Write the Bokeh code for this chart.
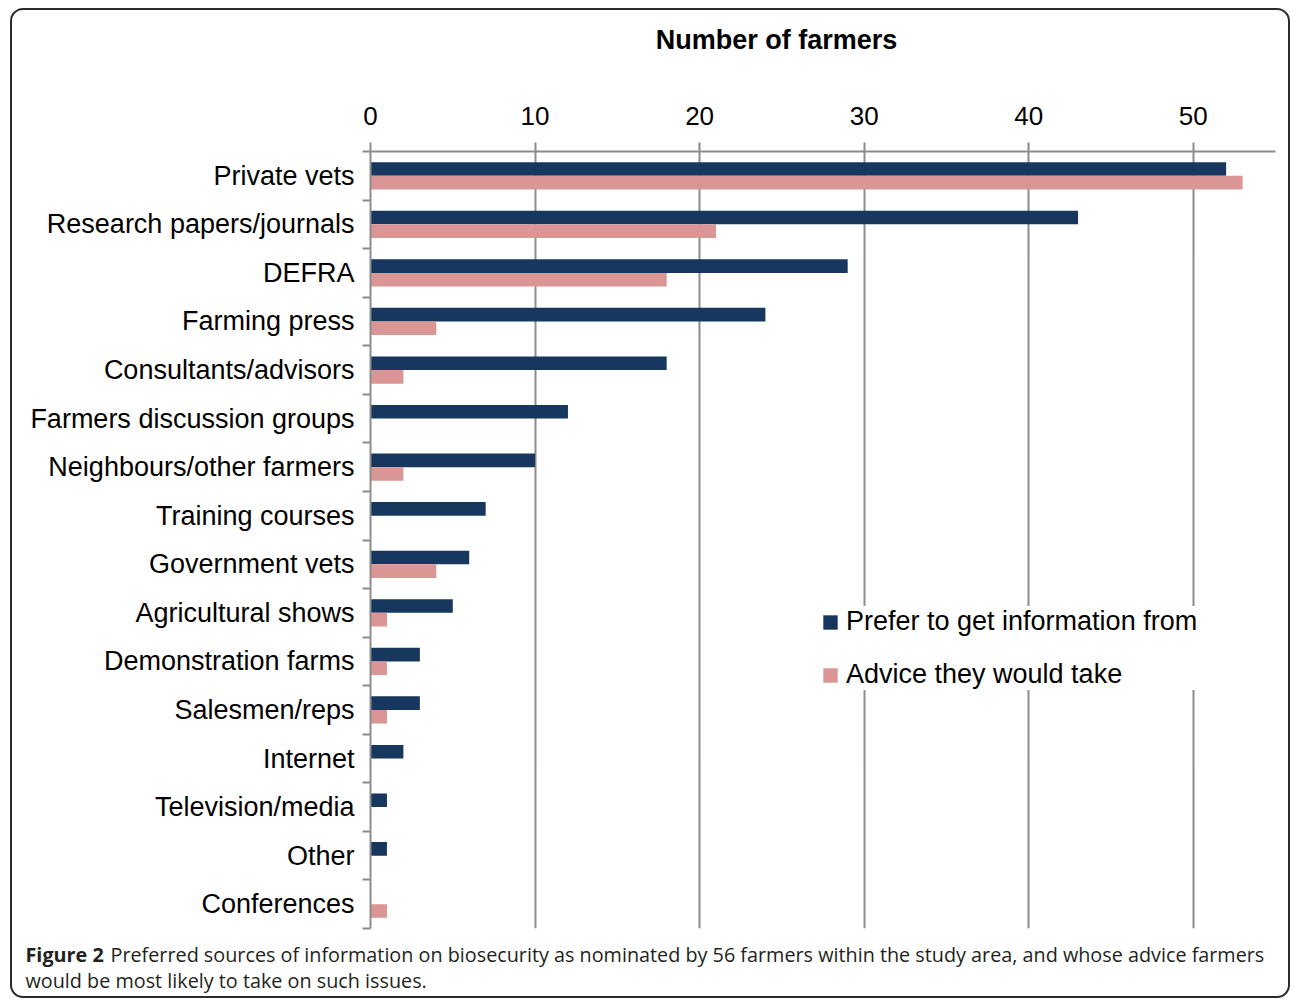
from bokeh.plotting import figure
from bokeh.models import (Range1d, FixedTicker, Label, Legend, LegendItem,
                          ColumnDataSource)
from bokeh.transform import dodge
from bokeh.embed import file_html
from bokeh.resources import INLINE

categories = ["Private vets", "Research papers/journals", "DEFRA", "Farming press",
              "Consultants/advisors", "Farmers discussion groups",
              "Neighbours/other farmers", "Training courses", "Government vets",
              "Agricultural shows", "Demonstration farms", "Salesmen/reps",
              "Internet", "Television/media", "Other", "Conferences"]
prefer = [52, 43, 29, 24, 18, 12, 10, 7, 6, 5, 3, 3, 2, 1, 1, 0]
advice = [53, 21, 18, 4, 2, 0, 2, 0, 4, 1, 1, 1, 0, 0, 0, 1]
x_ticks = [0, 10, 20, 30, 40, 50]
series_names = ["Prefer to get information from", "Advice they would take"]
title_text = "Number of farmers"
caption_bold = "Figure 2"
caption_line1 = "Preferred sources of information on biosecurity as nominated by 56 farmers within the study area, and whose advice farmers"
caption_line2 = "would be most likely to take on such issues."

DARK = "#17375e"
PINK = "#d99694"
GRID = "#8c8c8c"
FONT = "Liberation Sans"
CAP_FONT = "Open Sans"

n = len(categories)
pos = [n - i - 0.5 for i in range(n)]
src = ColumnDataSource(dict(cat=categories, pos=pos, prefer=prefer, advice=advice))

X_MAX = 55
# layout (pixels, page coordinates)
CANVAS_X0, CANVAS_Y0 = 15, 13           # canvas origin (margin + border + padding)
FRAME_L, FRAME_R, FRAME_T, FRAME_B = 370, 1275, 151, 928
W, H = 1280, 990

p = figure(width=W, height=H, output_backend="svg", toolbar_location=None,
           x_range=Range1d(0, X_MAX), y_range=Range1d(0, n),
           x_axis_location="above",
           min_border_left=FRAME_L - CANVAS_X0,
           min_border_right=W - (FRAME_R - CANVAS_X0),
           min_border_top=FRAME_T - CANVAS_Y0,
           min_border_bottom=H - (FRAME_B - CANVAS_Y0),
           margin=(8, 0, 0, 10),
           styles={"border": "2px solid #2b2b2b", "border-radius": "13px",
                   "padding": "3px", "background-color": "white"})
p.outline_line_color = None
p.background_fill_color = "white"
p.border_fill_color = "white"

r1 = p.hbar(y=dodge("pos", 0.14), right="prefer", left=0, height=0.28,
            source=src, fill_color=DARK, line_color=None)
r2 = p.hbar(y=dodge("pos", -0.14), right="advice", left=0, height=0.28,
            source=src, fill_color=PINK, line_color=None)

# x axis (top)
xa = p.xaxis[0]
xa.ticker = FixedTicker(ticks=x_ticks, minor_ticks=[])
xa.axis_line_color = GRID
xa.axis_line_width = 2
xa.major_tick_line_color = GRID
xa.major_tick_line_width = 2
xa.major_tick_out = 9
xa.major_tick_in = 0
xa.major_label_text_font = FONT
xa.major_label_text_font_size = "26px"
xa.major_label_text_color = "black"
xa.major_label_standoff = 18

# y axis (left): labels at centres, ticks at boundaries
ya = p.yaxis[0]
ya.ticker = FixedTicker(ticks=pos, minor_ticks=list(range(n + 1)))
ya.major_label_overrides = {float(v): c for v, c in zip(pos, categories)}
ya.axis_line_color = GRID
ya.axis_line_width = 2
ya.major_tick_out = 0
ya.major_tick_in = 0
ya.major_tick_line_color = None
ya.minor_tick_line_color = GRID
ya.minor_tick_line_width = 2
ya.minor_tick_out = 8
ya.minor_tick_in = 0
ya.major_label_text_font = FONT
ya.major_label_text_font_size = "27px"
ya.major_label_text_color = "black"
ya.major_label_standoff = 8

p.xgrid.ticker = FixedTicker(ticks=x_ticks[1:])
p.xgrid.grid_line_color = GRID
p.xgrid.grid_line_width = 2
p.ygrid.grid_line_color = None

legend = Legend(items=[LegendItem(label=series_names[0], renderers=[r1]),
                       LegendItem(label=series_names[1], renderers=[r2])],
                location=(451, 238))
legend.label_text_font = FONT
legend.label_text_font_size = "27px"
legend.label_text_color = "black"
legend.glyph_width = 18
legend.glyph_height = 18
legend.label_height = 30
legend.label_standoff = 7
legend.padding = 8
legend.spacing = 22
legend.margin = 0
legend.border_line_color = None
legend.background_fill_color = "white"
legend.background_fill_alpha = 1
p.add_layout(legend, "center")

# texts outside the frame: placed in side panels (not clipped), positioned
# through the frame's scales
ppx = (FRAME_R - FRAME_L) / X_MAX
ppy = (FRAME_B - FRAME_T) / n
def dx(page_x):
    return (page_x - FRAME_L) / ppx
def dy(page_y):
    return (FRAME_B - page_y) / ppy

p.add_layout(Label(x=dx(776), y=dy(39), text=title_text,
                   text_font=FONT, text_font_style="bold", text_font_size="27px",
                   text_align="center", text_baseline="middle", text_color="black"),
             "above")
p.add_layout(Label(x=dx(25), y=dy(954), text=caption_bold,
                   text_font=CAP_FONT, text_font_style="bold", text_font_size="19.8px",
                   text_align="left", text_baseline="middle", text_color="#231f20"),
             "above")
p.add_layout(Label(x=dx(110), y=dy(954), text=caption_line1,
                   text_font=CAP_FONT, text_font_size="19.8px",
                   text_align="left", text_baseline="middle", text_color="#231f20"),
             "below")
p.add_layout(Label(x=dx(25), y=dy(980), text=caption_line2,
                   text_font=CAP_FONT, text_font_size="19.8px",
                   text_align="left", text_baseline="middle", text_color="#231f20"),
             "below")

open("out.html", "w").write(file_html(p, INLINE))
